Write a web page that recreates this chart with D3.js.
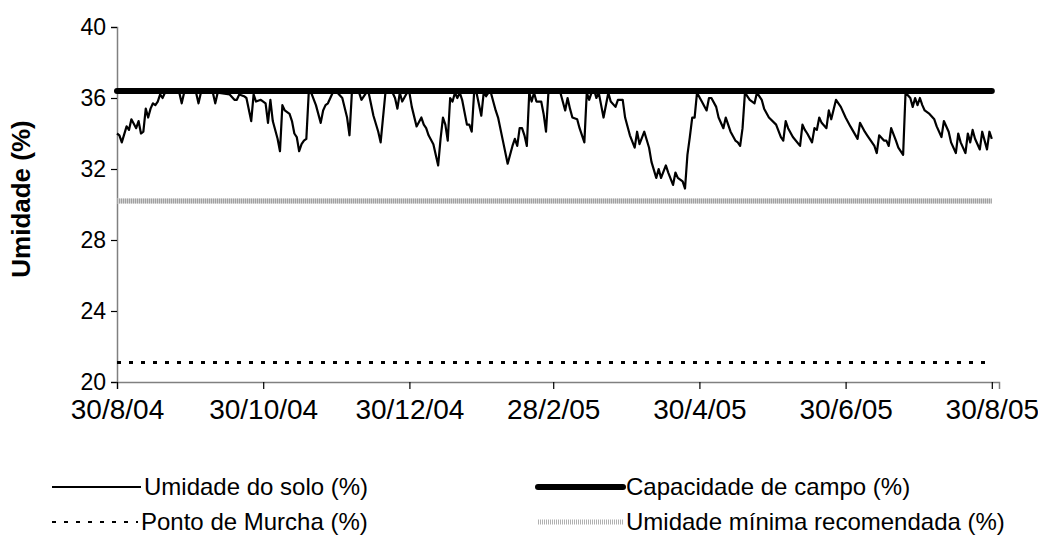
<!DOCTYPE html>
<html><head><meta charset="utf-8">
<script src="https://cdn.jsdelivr.net/npm/d3@7"></script>
<style>body{margin:0;background:#fff} text{font-family:"Liberation Sans",Arial,sans-serif;fill:#000}</style>
</head><body><svg id="c" width="1038" height="535"></svg>
<script>
const startDate = "2004-08-30";
const soilDays = [0,1,2,4,5,6,8,9,10,11,12,13,14,15,16,17,18,19,20,26,27,28,33,34,35,40,41,42,47,49,50,51,53,54,56,57,58,60,62,63,64,65,67,68,69,70,72,73,74,75,76,77,78,79,80,81,83,85,86,87,88,90,92,94,96,97,98,101,102,104,105,107,109,110,112,115,116,117,118,119,121,122,123,125,127,128,129,130,132,134,135,136,137,138,139,140,141,142,143,144,146,147,148,149,150,152,153,154,155,156,158,159,161,163,165,166,167,168,169,170,171,172,173,174,175,177,178,179,180,185,187,188,189,190,192,193,195,196,197,198,199,200,201,202,203,205,206,208,209,211,212,214,216,217,218,220,222,223,225,226,227,229,230,232,233,234,236,237,238,239,240,241,242,244,246,247,248,250,251,253,254,256,258,259,260,261,262,264,266,267,269,270,272,275,277,278,279,280,282,285,286,287,288,290,291,292,293,294,296,297,298,300,302,304,306,309,310,312,313,314,316,317,318,320,321,322,323,325,326,328,329,331,332,333,334,335,336,337,339,341,342,344,345,347,348,350,351,352,354,355,356,357,358,360,361,362,363,364,365];
const soilValues = [34.0,33.9,33.5,34.4,34.2,34.8,34.3,34.7,34.0,34.1,35.4,34.9,35.4,35.7,35.6,35.8,36.2,36.0,36.3,36.3,35.7,36.3,36.3,35.7,36.3,36.3,35.7,36.3,36.2,35.9,35.9,36.2,36.1,36.0,34.7,36.2,35.8,35.9,35.7,34.6,35.9,34.7,33.7,33.0,35.6,35.3,35.1,34.7,34.0,33.8,33.0,33.4,33.6,33.7,36.3,36.3,35.6,34.6,35.3,35.6,35.7,36.3,36.3,36.0,34.9,33.9,36.3,36.3,35.9,36.3,36.3,35.0,34.1,33.5,36.3,36.3,36.0,35.4,36.3,35.8,36.3,36.3,35.5,34.4,34.9,34.5,34.3,33.9,33.4,32.2,33.7,34.9,34.5,33.6,36.0,35.8,36.3,36.0,36.3,35.9,34.5,34.5,34.1,36.3,36.3,35.0,36.3,36.1,36.3,36.3,35.3,34.9,33.6,32.3,33.3,33.7,33.3,34.3,34.3,33.9,33.3,36.3,35.8,36.3,35.8,35.8,35.1,34.1,36.3,36.3,35.3,36.0,35.4,34.9,34.8,34.3,33.5,36.3,35.9,36.3,36.5,36.0,36.3,35.6,34.9,36.3,35.8,35.5,35.9,35.9,34.9,33.9,33.2,34.1,33.4,34.1,33.2,32.4,31.5,32.0,31.5,32.2,31.8,31.1,31.8,31.5,31.3,30.9,32.8,33.8,34.9,34.9,36.3,35.8,35.3,36.0,36.0,35.5,34.9,34.3,34.9,34.1,33.6,33.5,33.3,34.3,36.3,35.9,35.7,36.3,35.9,35.4,34.9,34.5,33.8,33.6,34.7,34.3,33.8,33.3,34.5,34.2,34.0,33.5,34.3,34.2,34.9,34.6,34.3,35.3,34.8,35.9,35.5,34.9,34.4,33.7,34.6,34.1,33.9,33.7,33.3,32.9,33.9,33.6,33.6,33.3,34.3,33.6,33.2,32.8,36.3,36.0,35.5,36.0,35.6,36.0,35.6,35.3,35.1,34.8,34.4,33.8,34.7,34.1,33.5,32.9,34.0,33.5,32.9,34.0,33.5,34.2,33.7,33.1,34.1,33.6,33.1,34.1,33.7];
const seriesEnd = "2005-08-30";
const fieldCapacity = 36.4;
const minRecommended = 30.2;
const wiltingPoint = 21.1;
const xTickDates = ["2004-08-30","2004-10-30","2004-12-30","2005-02-28","2005-04-30","2005-06-30","2005-08-30"];
const xTickLabels = ["30/8/04","30/10/04","30/12/04","28/2/05","30/4/05","30/6/05","30/8/05"];
const yTicks = [20,24,28,32,36,40];
const seriesNames = ["Umidade do solo (%)","Capacidade de campo (%)","Ponto de Murcha (%)","Umidade mínima recomendada (%)"];
const yTitle = "Umidade (%)";

const svg = d3.select("#c");
const parse = d3.utcParse("%Y-%m-%d");
const t0 = parse(startDate), t1 = parse(seriesEnd);
const x = d3.scaleUtc().domain([t0, d3.utcDay.offset(t1, 3)]).range([117, 999]);
const y = d3.scaleLinear().domain([20, 40]).range([382, 27]);

const soil = soilDays.map((d, i) => ({date: d3.utcDay.offset(t0, d), v: soilValues[i]}));
const line = d3.line().x(d => x(d.date)).y(d => y(d.v));
const flat = v => [{date: t0, v}, {date: t1, v}];

// axes
const yAxis = d3.axisLeft(y).tickValues(yTicks).tickSize(6).tickPadding(5).tickFormat(d3.format("d"));
const gy = svg.append("g").attr("transform", "translate(117,0)").call(yAxis);
gy.select(".domain").attr("stroke", "#808080").attr("stroke-width", 1.5);
gy.selectAll(".tick line").attr("stroke", "#000").attr("stroke-width", 1.2);
gy.selectAll(".tick text").style("font-size", "23px").attr("fill", "#000");

const xAxis = d3.axisBottom(x).tickValues(xTickDates.map(parse)).tickSize(7).tickPadding(10)
  .tickFormat((d, i) => xTickLabels[i]);
const gx = svg.append("g").attr("transform", "translate(0,382)").call(xAxis);
gx.select(".domain").attr("stroke", "#808080").attr("stroke-width", 1.5);
gx.selectAll(".tick line").attr("stroke", "#000").attr("stroke-width", 1.2);
gx.selectAll(".tick text").style("font-size", "28px").attr("fill", "#000");

svg.append("text").attr("transform", "translate(30,199) rotate(-90)").attr("text-anchor", "middle")
  .style("font-size", "26px").style("font-weight", "bold").text(yTitle);

// series
svg.append("path").datum(flat(wiltingPoint)).attr("d", line).attr("fill", "none")
  .attr("stroke", "#000").attr("stroke-width", 3).attr("stroke-dasharray", "4,8");
svg.append("path").datum(flat(minRecommended)).attr("d", line).attr("fill", "none")
  .attr("stroke", "#d4d4d4").attr("stroke-width", 5);
svg.append("path").datum(flat(minRecommended)).attr("d", line).attr("fill", "none")
  .attr("stroke", "#a0a0a0").attr("stroke-width", 5).attr("stroke-dasharray", "1,1");
svg.append("path").datum(soil).attr("d", line).attr("fill", "none")
  .attr("stroke", "#000").attr("stroke-width", 2.2).attr("stroke-linejoin", "round");
svg.append("path").datum(flat(fieldCapacity)).attr("d", line).attr("fill", "none")
  .attr("stroke", "#000").attr("stroke-width", 6).attr("stroke-linecap", "round");

// legend
const leg = svg.append("g");
const items = [
  {name: seriesNames[0], x1: 52, x2: 141, y: 487, style: s => s.attr("stroke", "#000").attr("stroke-width", 2)},
  {name: seriesNames[1], x1: 538, x2: 623, y: 487, style: s => s.attr("stroke", "#000").attr("stroke-width", 6).attr("stroke-linecap", "round")},
  {name: seriesNames[2], x1: 52, x2: 138, y: 522, style: s => s.attr("stroke", "#000").attr("stroke-width", 2).attr("stroke-dasharray", "4,8")},
  {name: seriesNames[3], x1: 538, x2: 623, y: 522, style: s => s.attr("stroke", "#b0b0b0").attr("stroke-width", 5).attr("stroke-dasharray", "1,1")}
];
items.forEach(it => {
  leg.append("line").attr("x1", it.x1).attr("x2", it.x2).attr("y1", it.y).attr("y2", it.y).call(it.style);
  leg.append("text").attr("x", it.x2 + 3).attr("y", it.y).attr("dy", "0.35em").style("font-size", "24px").text(it.name);
});
</script></body></html>
